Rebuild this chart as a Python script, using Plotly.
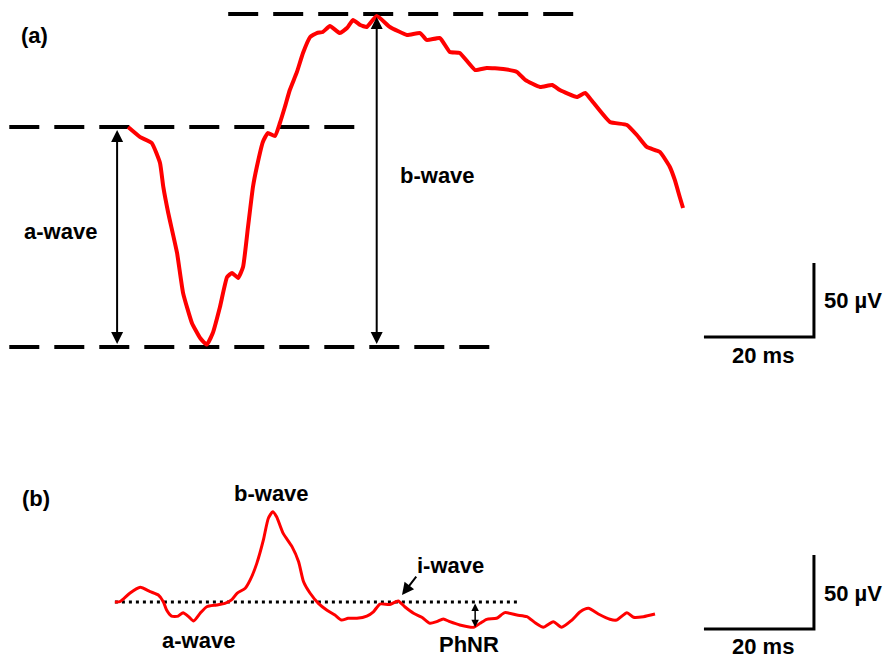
import plotly.graph_objects as go

# ---------------- data (time in ms, amplitude in µV) ----------------
# Panel (a): full-field ERG
a_time = [2.2, 4.4, 6.5, 8.0, 8.6, 9.5, 11.1, 12.2, 13.8, 15.3, 16.5, 17.6, 18.9, 20.2,
          21.1, 22.2, 23.1, 24.0, 24.9, 25.6, 26.7, 27.6, 28.9, 29.8, 30.7, 31.6, 32.9,
          34.0, 35.3, 36.5, 37.6, 38.9, 40.7, 42.0, 43.1, 44.4, 45.6, 47.4, 49.8, 52.9,
          55.3, 56.5, 58.9, 60.7, 62.5, 65.3, 67.4, 70.4, 72.9, 74.4, 77.1, 79.3, 80.7,
          83.8, 85.3, 86.7, 89.8, 92.9, 94.7, 96.5, 98.9, 100.7, 101.6, 102.5, 103.1]
a_volt = [0.0, -6.8, -10.8, -24.3, -40.5, -58.1, -85.1, -112.2, -132.4, -142.6, -147.0,
          -139.2, -121.6, -101.4, -98.6, -102.0, -94.6, -67.6, -40.5, -27.0, -10.1, -4.1,
          -6.1, 2.7, 13.5, 25.0, 37.2, 50.0, 60.8, 63.5, 64.2, 68.2, 63.5, 66.9, 72.3, 68.9,
          67.6, 75.0, 67.6, 62.2, 63.5, 58.8, 60.1, 50.7, 50.0, 38.5, 39.9, 39.2, 37.2,
          31.8, 27.0, 28.4, 25.0, 20.3, 23.0, 16.9, 3.4, 1.4, -5.4, -13.5, -16.9, -27.0,
          -35.8, -47.3, -54.7]

# Panel (b): photopic ERG
b_time = [-0.2, 0.7, 2.5, 4.4, 6.2, 7.7, 8.6, 9.2, 10.1, 11.3, 12.2, 13.2, 14.1, 15.3,
          16.5, 18.3, 19.8, 21.0, 22.0, 23.5, 24.4, 25.6, 26.8, 27.7, 28.5, 29.2, 30.4,
          32.0, 33.2, 34.1, 35.3, 36.8, 38.3, 39.8, 41.0, 42.2, 43.8, 45.6, 46.8, 48.0,
          49.8, 51.3, 52.5, 54.1, 55.6, 57.1, 58.3, 59.5, 60.7, 62.5, 65.0, 66.2, 67.4,
          69.2, 70.7, 72.9, 74.7, 76.2, 77.7, 79.5, 81.0, 82.9, 84.4, 85.9, 87.7, 89.8,
          91.0, 92.9, 94.1, 95.9, 98.0]
b_volt = [0.0, 0.2, 5.9, 9.9, 7.0, 4.7, 0.2, -5.4, -9.5, -9.5, -7.2, -9.9, -12.8, -7.6,
          -3.2, -2.0, -0.9, 1.4, 5.9, 9.3, 14.9, 26.1, 41.9, 56.6, 61.0, 57.6, 46.4, 37.4,
          27.2, 13.7, 5.9, -0.9, -5.4, -8.8, -12.2, -11.0, -11.0, -9.5, -6.6, -1.4, -1.7,
          0.7, -3.2, -7.6, -10.3, -14.4, -13.3, -11.5, -13.3, -15.5, -17.1, -14.4, -11.7,
          -11.0, -7.2, -8.8, -9.9, -14.0, -17.1, -13.3, -17.1, -12.2, -6.6, -4.3, -8.1,
          -11.7, -12.2, -7.2, -10.3, -9.9, -8.1]

# Reference levels for panel (a)
a_baseline = 0.0
a_trough = -148.6
a_peak = 76.4
# Reference line for panel (b)
b_baseline = 0.0
b_phnr = -17.1

# Scale bars
scale_ms = 20
scale_uv = 50

# Labels
panel_a_labels = ["(a)", "a-wave", "b-wave", "50 µV", "20 ms"]
panel_b_labels = ["(b)", "b-wave", "i-wave", "a-wave", "PhNR", "50 µV", "20 ms"]

# ---------------- figure ----------------
RED = "#ff0000"
BLACK = "#000000"
FONT = "Liberation Sans, Arial, sans-serif"

fig = go.Figure()

# dashed reference lines (panel a)
fig.add_trace(go.Scatter(x=[-19.4, 44.0], y=[a_baseline, a_baseline], mode="lines",
                         line=dict(color=BLACK, width=4, dash="30px,15px"), yaxis="y"))
fig.add_trace(go.Scatter(x=[20.4, 83.5], y=[a_peak, a_peak], mode="lines",
                         line=dict(color=BLACK, width=4, dash="30px,15px"), yaxis="y"))
fig.add_trace(go.Scatter(x=[-19.4, 69.3], y=[a_trough, a_trough], mode="lines",
                         line=dict(color=BLACK, width=4, dash="30px,15px"), yaxis="y"))

# panel a trace
fig.add_trace(go.Scatter(x=a_time, y=a_volt, mode="lines",
                         line=dict(color=RED, width=4, shape="spline", smoothing=0.4), yaxis="y"))

# scale bar panel a
sb_x0 = 106.9
sb_ya = -141.9
fig.add_trace(go.Scatter(x=[sb_x0, sb_x0 + scale_ms, sb_x0 + scale_ms],
                         y=[sb_ya, sb_ya, sb_ya + scale_uv], mode="lines",
                         line=dict(color=BLACK, width=3), yaxis="y"))

# panel b dotted baseline
fig.add_trace(go.Scatter(x=[-0.2, 72.9], y=[b_baseline, b_baseline], mode="lines",
                         line=dict(color=BLACK, width=3, dash="3px,4px"), yaxis="y2"))

# panel b trace
fig.add_trace(go.Scatter(x=b_time, y=b_volt, mode="lines",
                         line=dict(color=RED, width=3, shape="spline", smoothing=0.6), yaxis="y2"))

# scale bar panel b
sb_yb = -18.2
fig.add_trace(go.Scatter(x=[sb_x0, sb_x0 + scale_ms, sb_x0 + scale_ms],
                         y=[sb_yb, sb_yb, sb_yb + scale_uv], mode="lines",
                         line=dict(color=BLACK, width=3), yaxis="y2"))

# arrows
arrow_common = dict(text="", showarrow=True, arrowcolor=BLACK, arrowwidth=2,
                    arrowhead=2, arrowsize=1.2, startarrowhead=2, startarrowsize=1.2,
                    standoff=0, startstandoff=0)
fig.add_annotation(x=0.2, y=a_trough + 2, ax=0.2, ay=a_baseline - 1, xref="x", yref="y",
                   axref="x", ayref="y", arrowside="end+start", **arrow_common)
fig.add_annotation(x=47.4, y=a_trough + 2, ax=47.4, ay=a_peak - 1, xref="x", yref="y",
                   axref="x", ayref="y", arrowside="end+start", **arrow_common)
fig.add_annotation(x=65.3, y=b_phnr, ax=65.3, ay=b_baseline, xref="x", yref="y2",
                   axref="x", ayref="y2", arrowside="end+start",
                   **{**arrow_common, "arrowwidth": 1.5, "arrowsize": 1.0, "startarrowsize": 1.0})
fig.add_annotation(x=52.0, y=4.7, ax=54.8, ay=18.2, xref="x", yref="y2",
                   axref="x", ayref="y2", arrowside="end", **arrow_common)

# text labels (paper positions)
W, H = 886, 658


def label(txt, px, py, size=22):
    fig.add_annotation(text="<b>%s</b>" % txt, x=px / W, y=1 - py / H, xref="paper", yref="paper",
                       showarrow=False, xanchor="center", yanchor="middle",
                       font=dict(family=FONT, size=size, color=BLACK))


label(panel_a_labels[0], 34, 35)
label(panel_a_labels[1], 60, 232)
label(panel_a_labels[2], 437, 175)
label(panel_a_labels[3], 853, 300)
label(panel_a_labels[4], 763, 355)

label(panel_b_labels[0], 36, 498)
label(panel_b_labels[1], 271, 493)
label(panel_b_labels[2], 450, 565)
label(panel_b_labels[3], 198, 640)
label(panel_b_labels[4], 469, 644)
label(panel_b_labels[5], 853, 593)
label(panel_b_labels[6], 763, 646)

fig.update_layout(
    width=W, height=H,
    margin=dict(l=0, r=0, t=0, b=0),
    paper_bgcolor="white", plot_bgcolor="white",
    showlegend=False,
    xaxis=dict(range=[-21.09, 140.0], visible=False, fixedrange=True),
    yaxis=dict(range=[-358.78, 85.81], visible=False, fixedrange=True),
    yaxis2=dict(range=[-37.84, 406.76], visible=False, overlaying="y", fixedrange=True),
)

fig.write_html("out.html", config={"displayModeBar": False},
               post_script="document.body.style.margin='0px';document.body.style.padding='0px';"
                           "document.body.style.overflow='hidden';")
